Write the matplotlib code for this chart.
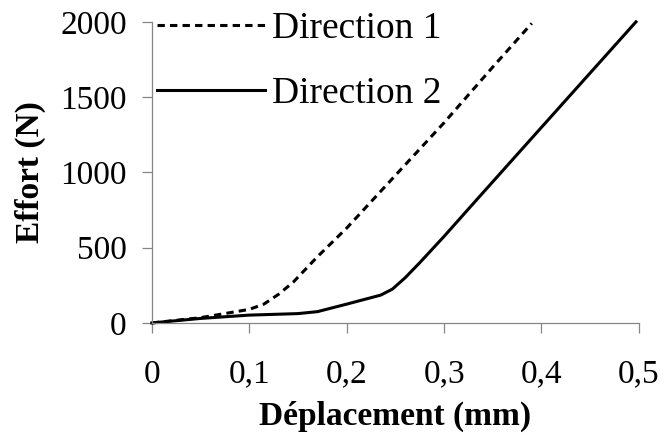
import numpy as np
import matplotlib
matplotlib.use('Agg')
import matplotlib.pyplot as plt

plt.rcParams['font.family'] = ['Liberation Serif', 'DejaVu Serif']

# Direction 1 (dashed), Direction 2 (solid)
d1_x = [0, 0.05, 0.1, 0.115, 0.13, 0.145, 0.17, 0.2, 0.25, 0.3, 0.35, 0.39]
d1_y = [0, 35, 90, 125, 190, 270, 440, 630, 980, 1330, 1700, 1990]

d2_x = [0, 0.05, 0.1, 0.15, 0.17, 0.2, 0.235, 0.247, 0.26, 0.275, 0.3, 0.333, 0.38, 0.497]
d2_y = [0, 30, 52, 62, 75, 125, 185, 225, 300, 400, 575, 815, 1155, 2000]

xticks = [0, 0.1, 0.2, 0.3, 0.4, 0.5]
xtick_labels = ['0', '0,1', '0,2', '0,3', '0,4', '0,5']
yticks = [0, 500, 1000, 1500, 2000]

gris = '#868686'

fig = plt.figure(figsize=(6.69, 4.37), dpi=100)
ax = fig.add_axes([0.227, 0.261, 0.728, 0.689])

ax.plot(d1_x, d1_y, color='black', lw=2.2, dashes=(2.4, 1.7), label='Direction 1', clip_on=False)
ax.plot(d2_x, d2_y, color='black', lw=2.2, label='Direction 2', clip_on=False)

ax.set_xlim(0, 0.5)
ax.set_ylim(0, 2000)
ax.set_xticks(xticks)
ax.set_xticklabels(xtick_labels)
ax.set_yticks(yticks)

for s in ['top', 'right']:
    ax.spines[s].set_visible(False)
for s in ['left', 'bottom']:
    ax.spines[s].set_color(gris)
    ax.spines[s].set_linewidth(0.9)

ax.tick_params(axis='both', direction='out', length=7, width=0.9, color=gris, labelsize=24)
ax.tick_params(axis='x', pad=19)
ax.tick_params(axis='y', pad=11)

ax.set_xlabel('Déplacement (mm)', fontsize=24, fontweight='bold', labelpad=8)
ax.set_ylabel('Effort (N)', fontsize=24, fontweight='bold', labelpad=10)

ax.legend(loc='upper left', bbox_to_anchor=(0.234, 1.0 - 12/437), bbox_transform=fig.transFigure,
          frameon=False, fontsize=27, handlelength=2.9, handletextpad=0.17,
          borderpad=0, borderaxespad=0, labelspacing=0.8)

fig.savefig('out.png', dpi=100)
